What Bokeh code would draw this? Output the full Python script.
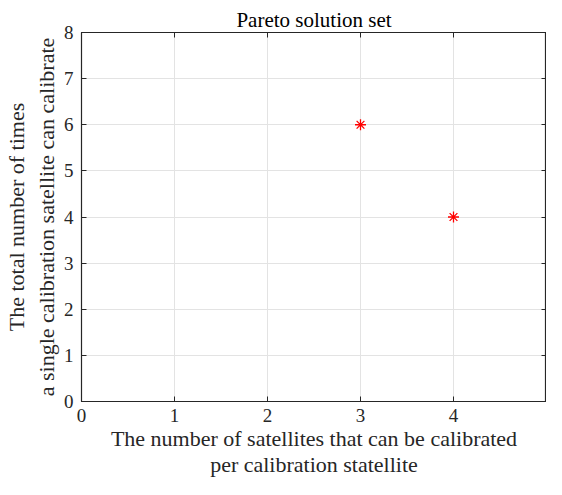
from bokeh.plotting import figure
from bokeh.models import LinearAxis, FixedTicker, Range1d, CustomJSTickFormatter
from bokeh.embed import file_html
from bokeh.resources import INLINE

# Data
x_vals = [3, 4]
y_vals = [6, 4]
x_ticks = [0, 1, 2, 3, 4]
y_ticks = [0, 1, 2, 3, 4, 5, 6, 7, 8]

FONT = "Liberation Serif"
AX = "#262626"

p = figure(width=546, height=479, output_backend="svg", toolbar_location=None,
           x_range=Range1d(0, 5), y_range=Range1d(0, 8),
           min_border_left=75, min_border_right=0, min_border_bottom=0, min_border_top=32)
p.title.text = "Pareto solution set"
p.title.align = "center"
p.title.text_font = FONT
p.title.text_font_style = "normal"
p.title.text_font_size = "21px"
p.title.text_color = "#000000"
p.title.standoff = 2
p.outline_line_color = AX
p.outline_line_width = 1.2

p.scatter(x_vals, y_vals, marker="asterisk", size=11, line_color="red", line_width=1.3)

p.xaxis.ticker = FixedTicker(ticks=x_ticks)
p.yaxis.ticker = FixedTicker(ticks=y_ticks)
p.xaxis.axis_label = "The number of satellites that can be calibrated\nper calibration statellite"
p.yaxis.axis_label = "The total number of times\na single calibration satellite can calibrate"
for axs in (p.xaxis, p.yaxis):
    axs.major_label_text_font = FONT
    axs.major_label_text_font_size = "19px"
    axs.major_label_text_color = AX
    axs.axis_label_text_font = FONT
    axs.axis_label_text_font_size = "22px"
    axs.axis_label_text_font_style = "normal"
    axs.axis_label_text_color = AX
    axs.axis_line_color = AX
    axs.major_tick_line_color = AX
    axs.major_tick_in = 5
    axs.major_tick_out = 0
    axs.minor_tick_line_color = None
p.xaxis.axis_label_text_line_height = 1.05
p.yaxis.axis_label_text_line_height = 1.2
p.xaxis.major_label_standoff = 7
p.yaxis.major_label_standoff = 8
p.xaxis.axis_label_standoff = 1
p.yaxis.axis_label_standoff = 2

blank = CustomJSTickFormatter(code="return '';")
top = LinearAxis(ticker=FixedTicker(ticks=x_ticks), formatter=blank,
                 major_tick_in=5, major_tick_out=0, minor_tick_line_color=None,
                 axis_line_color=AX, major_tick_line_color=AX, major_label_standoff=0)
right = LinearAxis(ticker=FixedTicker(ticks=y_ticks), formatter=blank,
                   major_tick_in=5, major_tick_out=0, minor_tick_line_color=None,
                   axis_line_color=AX, major_tick_line_color=AX, major_label_standoff=0)
p.add_layout(top, "above")
p.add_layout(right, "right")

p.grid.grid_line_color = "#e3e3e3"
p.grid.grid_line_alpha = 1.0
p.xgrid.ticker = FixedTicker(ticks=x_ticks)
p.ygrid.ticker = FixedTicker(ticks=y_ticks)

open("out.html", "w").write(file_html(p, INLINE))
